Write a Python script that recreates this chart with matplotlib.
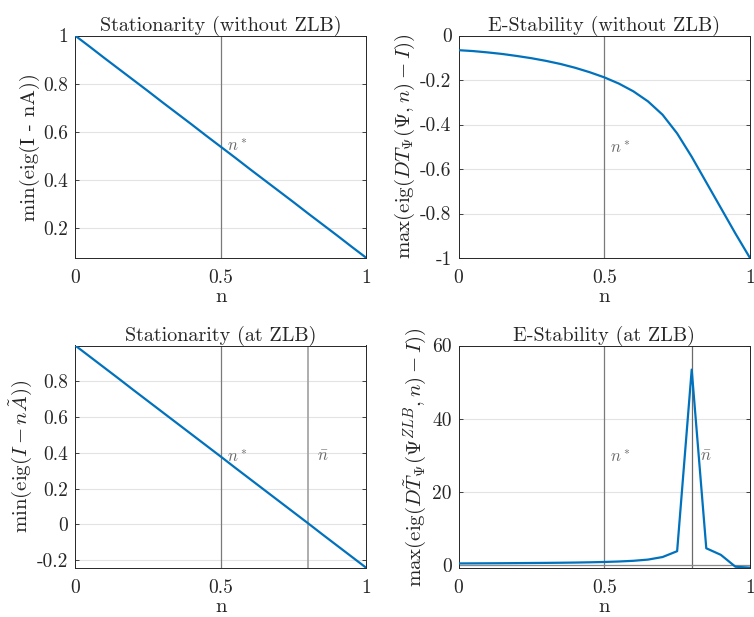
import numpy as np
import matplotlib
matplotlib.use("Agg")
import matplotlib.pyplot as plt

plt.rcParams['font.family'] = ['cmr10', 'DejaVu Serif']
plt.rcParams['mathtext.fontset'] = 'cm'
plt.rcParams['axes.unicode_minus'] = False

# ---- data ----
n_grid = [0.00, 0.05, 0.10, 0.15, 0.20, 0.25, 0.30, 0.35, 0.40, 0.45, 0.50,
          0.55, 0.60, 0.65, 0.70, 0.75, 0.80, 0.85, 0.90, 0.95, 1.00]

stat_no_zlb = [1.000, 0.954, 0.907, 0.861, 0.815, 0.769, 0.722, 0.676, 0.630, 0.583, 0.537,
               0.491, 0.444, 0.398, 0.352, 0.306, 0.259, 0.213, 0.167, 0.120, 0.074]

estab_no_zlb = [-0.066, -0.070, -0.076, -0.083, -0.092, -0.102, -0.114, -0.128, -0.145, -0.165, -0.188,
                -0.216, -0.251, -0.296, -0.356, -0.440, -0.545, -0.660, -0.775, -0.890, -1.000]

stat_zlb = [1.000, 0.938, 0.876, 0.814, 0.751, 0.689, 0.627, 0.565, 0.503, 0.441, 0.379,
            0.316, 0.254, 0.192, 0.130, 0.068, 0.006, -0.057, -0.119, -0.181, -0.243]

estab_zlb = [0.35, 0.37, 0.39, 0.41, 0.44, 0.47, 0.50, 0.54, 0.59, 0.66, 0.75,
             0.88, 1.07, 1.40, 2.10, 3.70, 53.4, 4.50, 2.70, -0.55, -0.80]

n_star = 0.5
n_bar = 0.8

xticks = [0, 0.5, 1]
xticklabels = ['0', '0.5', '1']

blue = '#0072BD'
axc = '#262626'
TICK_FS = 14
LABEL_FS = 15
TITLE_FS = 14.5
ANN_FS = 12

fig = plt.figure(figsize=(7.54, 6.17), dpi=100)

L1, W = 75/754, 291.5/754
L2 = 458.5/754
B_top, B_bot = 1 - 258/617, 1 - 568/617
H = 222.5/617

def style(ax, yticks, yticklabels, ylim):
    ax.set_xlim(0, 1)
    ax.set_ylim(*ylim)
    ax.set_xticks(xticks)
    ax.set_xticklabels(xticklabels)
    ax.set_yticks(yticks)
    ax.set_yticklabels(yticklabels)
    ax.tick_params(direction='in', length=3, width=0.6, color=axc, labelsize=TICK_FS,
                   top=True, right=True, labelcolor=axc, pad=5)
    ax.tick_params(axis='x', pad=8)
    ax.yaxis.grid(True, color='#e3e3e3', lw=0.8)
    ax.set_axisbelow(True)
    for s in ax.spines.values():
        s.set_color(axc)
        s.set_linewidth(0.7)
    ax.set_xlabel('n', fontsize=LABEL_FS, color=axc, labelpad=1)

# Top-left
ax1 = fig.add_axes([L1, B_top, W, H])
ax1.axvline(n_star, color='#7a7a7a', lw=0.9, zorder=1)
ax1.plot(n_grid, stat_no_zlb, color=blue, lw=1.6, zorder=3)
ax1.text(0.52, 0.545, r'$n^*$', color='#6a6a6a', fontsize=ANN_FS, va='center', ha='left')
style(ax1, [0.2, 0.4, 0.6, 0.8, 1.0], ['0.2', '0.4', '0.6', '0.8', '1'], (0.074, 1.0))
ax1.set_title('Stationarity (without ZLB)', fontsize=TITLE_FS, color=axc, pad=3)
ax1.set_ylabel('min(eig(I - nA))', fontsize=LABEL_FS, color=axc, labelpad=2)

# Top-right
ax2 = fig.add_axes([L2, B_top, W, H])
ax2.axvline(n_star, color='#7a7a7a', lw=0.9, zorder=1)
ax2.plot(n_grid, estab_no_zlb, color=blue, lw=1.6, zorder=3)
ax2.text(0.52, -0.50, r'$n^*$', color='#6a6a6a', fontsize=ANN_FS, va='center', ha='left')
style(ax2, [-1, -0.8, -0.6, -0.4, -0.2, 0], ['-1', '-0.8', '-0.6', '-0.4', '-0.2', '0'], (-1.0, 0.0))
ax2.set_title('E-Stability (without ZLB)', fontsize=TITLE_FS, color=axc, pad=3)
ax2.set_ylabel(r'max(eig($DT_\Psi(\Psi, n) - I$))', fontsize=LABEL_FS, color=axc, labelpad=2)

# Bottom-left
ax3 = fig.add_axes([L1, B_bot, W, H])
ax3.axvline(n_star, color='#7a7a7a', lw=0.9, zorder=1)
ax3.axvline(n_bar, color='#a0a0a0', lw=1.2, zorder=1)
ax3.plot(n_grid, stat_zlb, color=blue, lw=1.6, zorder=3)
ax3.text(0.52, 0.383, r'$n^*$', color='#6a6a6a', fontsize=ANN_FS, va='center', ha='left')
ax3.text(0.83, 0.383, r'$\bar{n}$', color='#6a6a6a', fontsize=ANN_FS, va='center', ha='left')
style(ax3, [-0.2, 0, 0.2, 0.4, 0.6, 0.8], ['-0.2', '0', '0.2', '0.4', '0.6', '0.8'], (-0.243, 0.999))
ax3.set_title('Stationarity (at ZLB)', fontsize=TITLE_FS, color=axc, pad=3)
ax3.set_ylabel(r'min(eig($I - n\tilde{A}$))', fontsize=LABEL_FS, color=axc, labelpad=2)

# Bottom-right
ax4 = fig.add_axes([L2, B_bot, W, H])
ax4.axvline(n_star, color='#7a7a7a', lw=0.9, zorder=1)
ax4.axvline(n_bar, color='#6a6a6a', lw=0.9, zorder=1)
ax4.axhline(0, color='#8a8a8a', lw=0.9, zorder=1)
ax4.plot(n_grid, estab_zlb, color=blue, lw=1.6, zorder=3)
ax4.text(0.52, 29.6, r'$n^*$', color='#6a6a6a', fontsize=ANN_FS, va='center', ha='left')
ax4.text(0.83, 29.6, r'$\bar{n}$', color='#6a6a6a', fontsize=ANN_FS, va='center', ha='left')
style(ax4, [0, 20, 40, 60], ['0', '20', '40', '60'], (-0.9, 60))
ax4.set_title('E-Stability (at ZLB)', fontsize=TITLE_FS, color=axc, pad=3)
ax4.set_ylabel(r'max(eig($D\tilde{T}_\Psi(\Psi^{ZLB}, n) - I$))', fontsize=LABEL_FS, color=axc, labelpad=2)

fig.savefig('out.png', dpi=100)
